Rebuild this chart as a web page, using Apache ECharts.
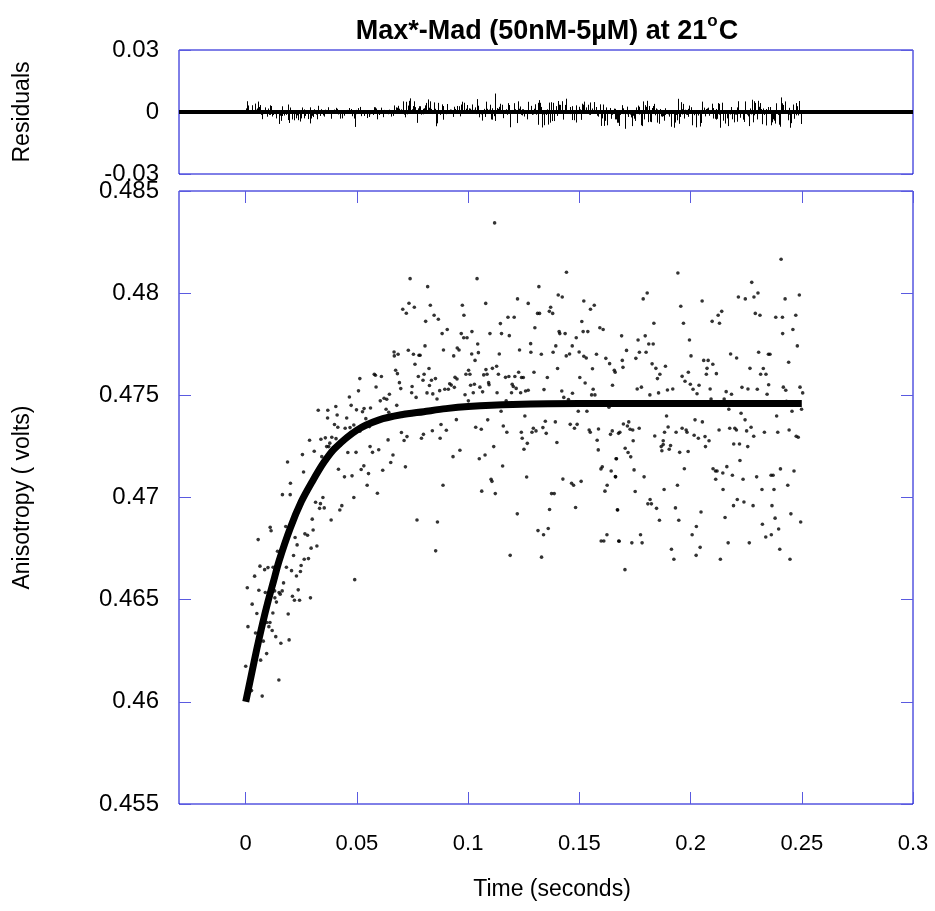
<!DOCTYPE html>
<html>
<head>
<meta charset="utf-8">
<script src="https://cdn.jsdelivr.net/npm/echarts@6/dist/echarts.min.js"></script>
<style>html,body{margin:0;padding:0;background:#fff}#c{width:935px;height:911px}</style>
</head>
<body>
<div id="c"></div>
<script>
// ---- data ----
const xTicks = [0, 0.05, 0.1, 0.15, 0.2, 0.25, 0.3];
const titleMain = 'Max*-Mad (50nM-5µM) at 21';
const titleSup = 'o';
const titleEnd = 'C';

// fitted exponential curve
const fitT = [0, 0.0025, 0.005, 0.0075, 0.01, 0.0125, 0.015, 0.02, 0.025, 0.03, 0.035, 0.04, 0.05, 0.06, 0.07, 0.08, 0.09, 0.1, 0.12, 0.15, 0.2, 0.25];
const fitY = [0.4600, 0.4613, 0.4626, 0.4638, 0.4649, 0.4659, 0.4669, 0.4685, 0.4698, 0.4708, 0.4717, 0.4724, 0.4733, 0.4738, 0.47405, 0.4742, 0.47435, 0.47445, 0.47455, 0.4746, 0.4746, 0.4746];

// observed anisotropy [time (s), anisotropy (volts)]
const obsRise = [
[0.0739,0.48071],[0.0734,0.47951],[0.0758,0.47931],[0.0706,0.47921],[0.0722,0.47902],
[0.0667,0.47712],[0.0685,0.47701],[0.0668,0.47693],[0.0731,0.47721],[0.0754,0.47701],[0.0779,0.47696],[0.0761,0.47652],
[0.0674,0.47623],[0.0682,0.47606],[0.0578,0.47603],[0.0583,0.47598],[0.0610,0.47592],[0.0513,0.47582],[0.0691,0.47562],[0.0586,0.47541],[0.0748,0.47543],[0.0697,0.47533],[0.0776,0.47592],
[0.0507,0.47522],[0.0646,0.47505],[0.0605,0.47473],[0.0622,0.47486],[0.0634,0.47481],[0.0466,0.47492],[0.0746,0.47513],[0.0766,0.4749],
[0.0474,0.47451],[0.0679,0.47451],[0.0631,0.47432],[0.0643,0.47417],[0.0656,0.47403],[0.0326,0.47427],[0.0369,0.47427],[0.0405,0.47445],
[0.0498,0.47429],[0.0532,0.47435],[0.0525,0.4742],[0.0561,0.47438],[0.0368,0.47389],[0.0411,0.47404],[0.0540,0.47386],[0.0454,0.47389],
[0.0399,0.47357],[0.0414,0.47344],[0.0447,0.47339],[0.0469,0.47342],[0.0486,0.47355],[0.0556,0.47347],[0.0513,0.47324],[0.0716,0.47416],
[0.0287,0.4728],[0.0338,0.47285],[0.0358,0.47292],[0.0387,0.47295],[0.0406,0.47288],[0.0378,0.47266],[0.0364,0.47249],[0.0373,0.47249],[0.0394,0.47244],[0.0426,0.47257],
[0.0308,0.47226],[0.0459,0.4722],[0.0496,0.47221],[0.0559,0.47249],[0.0570,0.47221],[0.0598,0.47234],[0.0640,0.47282],[0.0700,0.47318],[0.0725,0.47298],[0.0712,0.47279],
[0.0255,0.4721],[0.0342,0.472],[0.0662,0.47208],[0.0188,0.47174],[0.0260,0.47125],[0.0417,0.47138],[0.0444,0.47101],[0.0478,0.47106],[0.0519,0.47137],[0.0531,0.47155],[0.0552,0.47117],[0.0616,0.47133],[0.0652,0.47171],[0.0718,0.4715],
[0.0201,0.4707],[0.0165,0.47014],[0.0200,0.47014],[0.0347,0.47],[0.0314,0.46977],[0.0336,0.4697],[0.0332,0.46947],[0.0353,0.46949],[0.0486,0.47],[0.0546,0.4706],[0.0592,0.47021],[0.0432,0.4696],[0.0423,0.46939],[0.0384,0.4689],[0.0770,0.4689],[0.0299,0.46894],
[0.0110,0.46854],[0.0114,0.46837],[0.0180,0.46858],[0.0303,0.46841],[0.0266,0.46822],[0.0278,0.46815],[0.0222,0.46804],[0.0056,0.46794],[0.0143,0.46737],[0.0294,0.46752],[0.0320,0.46763],[0.0231,0.46768],[0.0215,0.46716],[0.0263,0.46698],[0.0282,0.46701],
[0.0064,0.46664],[0.0085,0.46647],[0.0100,0.46657],[0.0123,0.46659],[0.0183,0.46659],[0.0206,0.46642],[0.0249,0.46667],[0.0246,0.46638],[0.0228,0.46616],[0.0040,0.46615],[0.0170,0.46582],[0.0007,0.46558],[0.0059,0.46546],[0.0088,0.46535],[0.0130,0.46543],[0.0150,0.46535],[0.0164,0.46543],[0.0155,0.46527],[0.0236,0.46548],[0.0210,0.46517],[0.0219,0.46497],[0.0242,0.46497],[0.0291,0.46509],[0.0131,0.46509],[0.0138,0.46488],[0.0490,0.46598],
[0.0029,0.46478],[0.0050,0.46432],[0.0122,0.46435],[0.0191,0.4643],[0.0095,0.46388],[0.0109,0.46388],[0.0104,0.46368],[0.0010,0.46368],[0.0119,0.46349],[0.0044,0.46337],[0.0135,0.46319],[0.0079,0.46297],[0.0158,0.46287],[0.0195,0.46303],[0.0094,0.46236],[0.0067,0.46204],[0.0000,0.46174],[0.0149,0.46107],[0.0026,0.46055],[0.0074,0.46028]
];
const obsMid = [
[0.1119,0.48344],[0.1442,0.48102],[0.1040,0.48071],[0.0818,0.48032],[0.1318,0.48032],[0.1405,0.47991],[0.1423,0.47981],[0.1222,0.47972],[0.1520,0.47962],
[0.0830,0.47941],[0.0974,0.47941],[0.1079,0.4795],[0.1270,0.4795],[0.1567,0.47941],[0.1550,0.47921],[0.1371,0.47931],[0.1365,0.47911],[0.1380,0.47901],[0.1312,0.47901],[0.1321,0.47901],
[0.0847,0.47892],[0.0981,0.47892],[0.0866,0.47872],[0.0809,0.47862],[0.1179,0.47882],[0.1207,0.47882],[0.1145,0.47851],[0.1511,0.47861],
[0.0906,0.47822],[0.0883,0.47802],[0.1017,0.47812],[0.0969,0.47802],[0.0980,0.47782],[0.0995,0.47782],[0.1098,0.47802],[0.1150,0.47802],[0.1185,0.47792],[0.1300,0.47831],
[0.1409,0.47812],[0.1412,0.47802],[0.1436,0.47802],[0.1517,0.47812],[0.1538,0.47812],[0.1592,0.47831],[0.1607,0.47822],[0.1486,0.47782],[0.1043,0.47751],[0.1281,0.47753],
[0.0806,0.47742],[0.0889,0.47722],[0.0951,0.47732],[0.0959,0.47722],[0.0935,0.47693],[0.1016,0.47702],[0.1046,0.47709],[0.1031,0.47671],[0.1140,0.47702],[0.1231,0.47722],
[0.1282,0.47711],[0.1329,0.47701],[0.1394,0.47742],[0.1382,0.47711],[0.1441,0.47693],[0.1456,0.47702],[0.1468,0.47742],[0.1499,0.47712],[0.1520,0.47691],[0.1531,0.47683],
[0.1577,0.47701],[0.1619,0.47681],[0.1636,0.47655],[0.0784,0.47696],[0.0824,0.47631],[0.0802,0.47603],[0.1002,0.47623],[0.0990,0.47603],[0.1008,0.47603],[0.1080,0.47626],
[0.1109,0.47632],[0.1128,0.47642],[0.1070,0.476],[0.1085,0.47603],[0.1136,0.47603],[0.1227,0.47613],[0.1210,0.47592],[0.1296,0.47613],[0.1356,0.47587],[0.1402,0.47631],
[0.1502,0.47587],[0.1559,0.4763],[0.1657,0.47623],[0.1661,0.47613],[0.0797,0.47574],[0.0835,0.47574],[0.0853,0.47582],[0.0826,0.47548],[0.0917,0.47557],[0.0924,0.4755],
[0.0941,0.47588],[0.0950,0.4758],[0.0938,0.47539],[0.0911,0.4753],[0.0895,0.4753],[0.1011,0.47549],[0.1028,0.47554],[0.1053,0.4754],[0.1092,0.47562],[0.1094,0.47552],
[0.1168,0.47588],[0.1183,0.47592],[0.1198,0.47554],[0.1203,0.47543],[0.1216,0.47534],[0.1240,0.47587],[0.1248,0.47587],[0.1270,0.47525],[0.1258,0.47521],[0.1341,0.47528],
[0.1421,0.47521],[0.1469,0.4751],[0.1430,0.4749],[0.1526,0.4756],[0.1555,0.47502],[0.1570,0.47502],[0.1562,0.4753],[0.1649,0.47549],[0.0815,0.47512],[0.0841,0.47507],
[0.0860,0.47482],[0.0872,0.47523],[0.0986,0.47503],[0.1023,0.47513],[0.1065,0.47517],[0.1001,0.47473],[0.1130,0.47513],[0.1195,0.47513],[0.1236,0.47513],[0.1451,0.47479],[0.1171,0.47473],
[0.1148,0.47422],[0.0947,0.47381],[0.0878,0.47357],[0.0839,0.47327],[0.0902,0.47329],[0.1088,0.4738],[0.1034,0.47344],[0.1059,0.47334],[0.0799,0.47309],[0.0790,0.4729],[0.0874,0.4729],
[0.1158,0.4735],[0.1174,0.47319],[0.1255,0.47399],[0.1239,0.47319],[0.1243,0.4729],[0.1266,0.47265],[0.1251,0.47236],[0.1293,0.47339],[0.1305,0.47326],[0.1287,0.47319],
[0.1347,0.47373],[0.1336,0.47342],[0.1351,0.47314],[0.1392,0.4737],[0.1399,0.47269],[0.1459,0.47358],[0.1490,0.47358],[0.1478,0.47339],[0.1495,0.47422],[0.1534,0.47422],
[0.1544,0.4733],[0.1549,0.47319],[0.1586,0.47335],[0.1580,0.4728],[0.1585,0.47233],[0.1633,0.47442],[0.1648,0.47326],[0.1640,0.47309],[0.1676,0.47314],
[0.0963,0.47231],[0.0932,0.472],[0.1115,0.47249],[0.1076,0.47208],[0.1050,0.4719],[0.1155,0.47154],[0.1665,0.4719],[0.1603,0.4715],[0.1597,0.4714],[0.1643,0.4713],[0.1662,0.47102],
[0.1263,0.471],[0.0887,0.4706],[0.1103,0.47089],[0.1107,0.47079],[0.1426,0.4709],[0.1465,0.4707],[0.1474,0.4706],[0.1508,0.47079],[0.1061,0.47031],[0.1122,0.47019],
[0.1375,0.47019],[0.1387,0.47019],[0.1625,0.4706],[0.1615,0.47031],[0.1221,0.4692],[0.1366,0.46941],[0.1483,0.46951],[0.1671,0.4694],[0.0862,0.4688],
[0.1314,0.46838],[0.1360,0.46848],[0.1339,0.46818],[0.1624,0.46818],[0.1598,0.46787],[0.1610,0.46787],[0.1677,0.46787],[0.0854,0.46739],[0.1189,0.46717],[0.1330,0.46708]
];
const obsLate = [
[0.2407,0.48166],[0.1943,0.48099],[0.2275,0.48053],[0.1805,0.48001],[0.1787,0.47972],[0.2303,0.48001],[0.2285,0.47981],[0.2246,0.47972],[0.2215,0.47981],[0.2425,0.47972],
[0.2489,0.47991],[0.2052,0.47962],[0.1956,0.47936],[0.2291,0.47901],[0.2312,0.47892],[0.2140,0.47911],[0.2124,0.47892],[0.2097,0.47862],[0.2130,0.47853],[0.2383,0.47882],
[0.2413,0.47882],[0.2473,0.47892],[0.1835,0.47853],[0.1968,0.47853],[0.2460,0.47822],[0.2414,0.47802],[0.1690,0.47791],[0.1796,0.47791],[0.1764,0.47771],[0.1812,0.47751],
[0.1832,0.47751],[0.1995,0.47771],[0.2480,0.47742],[0.1712,0.4772],[0.1770,0.47711],[0.1800,0.47711],[0.1754,0.47681],[0.2002,0.47693],[0.2180,0.47702],[0.2207,0.47683],
[0.2306,0.47711],[0.2350,0.47701],[0.2357,0.47701],[0.2441,0.47662],[0.1827,0.47654],[0.1844,0.47632],[0.1887,0.47642],[0.1862,0.47603],[0.1851,0.47582],[0.1693,0.47671],
[0.1696,0.47637],[0.1962,0.47593],[0.1990,0.47613],[0.1975,0.47569],[0.1999,0.47554],[0.2011,0.4753],[0.2038,0.47549],[0.2029,0.47508],[0.2059,0.47671],[0.2079,0.47671],
[0.2074,0.47632],[0.2100,0.47652],[0.2071,0.47603],[0.2116,0.47606],[0.2088,0.47531],[0.2151,0.47482],[0.2160,0.47518],[0.2184,0.47505],[0.2231,0.47539],[0.2258,0.47531],
[0.2267,0.47632],[0.2300,0.4753],[0.2315,0.47603],[0.2327,0.47631],[0.2339,0.47603],[0.2351,0.47552],[0.2344,0.47505],[0.2417,0.4754],[0.2428,0.47525],[0.2492,0.4754],
[0.2504,0.47512],[0.1760,0.47531],[0.1779,0.4754],[0.1817,0.47502],[0.1856,0.47512],[0.1896,0.47526],[0.1920,0.47531],[0.2092,0.47482],[0.2431,0.47471],
[0.2172,0.47432],[0.1892,0.47399],[0.2227,0.47412],[0.2245,0.4738],[0.2387,0.47399],[0.2456,0.47422],[0.2499,0.47432],[0.1698,0.4736],[0.1716,0.4735],[0.1722,0.4737],
[0.1728,0.47334],[0.1740,0.4733],[0.1769,0.47339],[0.1682,0.47319],[0.1742,0.47278],[0.1839,0.47301],[0.1877,0.47278],[0.1877,0.47259],[0.1883,0.47319],[0.1899,0.47345],
[0.1935,0.47319],[0.1962,0.47339],[0.1980,0.4733],[0.1984,0.47319],[0.2016,0.47305],[0.2020,0.4738],[0.2053,0.4737],[0.2035,0.4729],[0.2065,0.47298],[0.2083,0.47278],
[0.2067,0.47249],[0.2128,0.4733],[0.2176,0.47339],[0.2199,0.47339],[0.2206,0.4733],[0.2252,0.47326],[0.2272,0.47344],[0.2284,0.473],[0.2194,0.47262],[0.2220,0.47262],
[0.2257,0.47249],[0.2332,0.47319],[0.2392,0.47319],[0.2443,0.4733],[0.2475,0.473],[0.2484,0.47295],[0.1706,0.47241],[0.1719,0.4722],[0.1731,0.47199],[0.1868,0.47249],
[0.1871,0.47229],[0.1904,0.47236],[0.1910,0.47254],[0.1951,0.47221],[0.1989,0.47225],[0.1667,0.4719],[0.1746,0.47135],[0.1663,0.47101],[0.1791,0.47101],[0.1972,0.47141],
[0.2101,0.47141],[0.2112,0.4713],[0.2119,0.4713],[0.2163,0.47151],[0.2145,0.4712],[0.2222,0.47181],[0.2188,0.47109],[0.2236,0.47089],[0.2297,0.47101],[0.2362,0.47109],
[0.2371,0.47109],[0.2404,0.4714],[0.2465,0.4713],[0.2437,0.4706],[0.2113,0.47089],[0.1751,0.47029],[0.1881,0.47039],[0.1941,0.4706],[0.2146,0.47039],[0.2321,0.47039],
[0.2375,0.47039],[0.1818,0.4699],[0.1808,0.46969],[0.1824,0.46969],[0.1847,0.46947],[0.1672,0.46939],[0.1932,0.46949],[0.2047,0.46929],[0.2210,0.4699],[0.2240,0.46978],
[0.2193,0.4696],[0.2281,0.4696],[0.2366,0.4696],[0.1860,0.46889],[0.1947,0.46889],[0.2155,0.46902],[0.2380,0.46899],[0.2451,0.4692],[0.2495,0.4688],[0.2026,0.46858],
[0.2323,0.46869],[0.2396,0.46846],[0.1775,0.46818],[0.1679,0.46786],[0.1736,0.46778],[0.1782,0.46778],[0.2007,0.46818],[0.2169,0.46778],[0.2264,0.46778],[0.2338,0.46807],
[0.2363,0.46818],[0.1914,0.46747],[0.2043,0.46756],[0.2401,0.46747],[0.1925,0.46698],[0.2025,0.46717],[0.2134,0.46698],[0.2447,0.46698],[0.1705,0.46647]
];

// ---- derived ----
const observed = obsRise.concat(obsMid, obsLate);
const fitLine = fitT.map((t, i) => [t, fitY[i]]);
function fitAt(t) {
  for (let i = 1; i < fitT.length; i++) {
    if (t <= fitT[i]) {
      const f = (t - fitT[i - 1]) / (fitT[i] - fitT[i - 1]);
      return fitY[i - 1] + f * (fitY[i] - fitY[i - 1]);
    }
  }
  return fitY[fitY.length - 1];
}
const residuals = observed.map(p => [p[0], p[1] - fitAt(p[0])]);

const FONT = '"Liberation Sans", Arial, Helvetica, sans-serif';
const BORDER = '#0000d0';
const TICK = '#5a5ae0';

const chart = echarts.init(document.getElementById('c'), null, { renderer: 'canvas' });
const tickStyle = (extra) => Object.assign({ show: true, inside: true, length: 12, lineStyle: { color: TICK, width: 1 } }, extra || {});
const tickOnly = (extra) => Object.assign({
  axisLine: { show: false, onZero: false },
  splitLine: { show: false },
  axisLabel: { show: false },
  axisTick: tickStyle()
}, extra);
const fmt = v => String(+(+v).toFixed(3));

chart.setOption({
  animation: false,
  backgroundColor: '#fff',
  textStyle: { fontFamily: FONT },
  graphic: [{
    type: 'text', x: 547, y: 29,
    style: {
      text: '{a|' + titleMain + '}{s|' + titleSup + '}{a|' + titleEnd + '}',
      align: 'center', verticalAlign: 'middle',
      rich: {
        a: { fontFamily: FONT, fontSize: 27, fontWeight: 'bold', fill: '#000', lineHeight: 32, verticalAlign: 'bottom' },
        s: { fontFamily: FONT, fontSize: 17, fontWeight: 'bold', fill: '#000', lineHeight: 32, verticalAlign: 'top', padding: [0, 1, 0, 0] }
      }
    }
  }],
  grid: [
    { left: 179, right: 22, top: 50, height: 124, show: true, borderColor: BORDER, borderWidth: 1, backgroundColor: 'transparent' },
    { left: 179, right: 22, top: 191, height: 613, show: true, borderColor: BORDER, borderWidth: 1, backgroundColor: 'transparent' }
  ],
  xAxis: [
    { type: 'value', gridIndex: 0, min: -0.03, max: 0.3, axisLine: { show: false, onZero: false }, axisTick: { show: false }, axisLabel: { show: false }, splitLine: { show: false } },
    {
      type: 'value', gridIndex: 1, min: -0.03, max: 0.3, position: 'bottom',
      axisLine: { show: false, onZero: false }, splitLine: { show: false },
      axisTick: tickStyle({ customValues: xTicks }),
      axisLabel: { show: true, customValues: xTicks, margin: 29, fontSize: 22, color: '#000', fontFamily: FONT, formatter: fmt },
      name: 'Time (seconds)', nameLocation: 'middle', nameGap: 74,
      nameTextStyle: { fontSize: 23, color: '#000', fontFamily: FONT, padding: [0, 0, 0, 12] }
    },
    tickOnly({ type: 'value', gridIndex: 1, min: -0.03, max: 0.3, position: 'top', axisTick: tickStyle({ customValues: xTicks }) })
  ],
  yAxis: [
    {
      type: 'value', gridIndex: 0, min: -0.03, max: 0.03, interval: 0.03, position: 'left',
      axisLine: { show: false, onZero: false }, splitLine: { show: false },
      axisTick: tickStyle(),
      axisLabel: { margin: 20, fontSize: 24, color: '#000', fontFamily: FONT, padding: [0, 0, 18, 0], formatter: fmt },
      name: 'Residuals', nameLocation: 'middle', nameGap: 145, nameRotate: 90,
      nameTextStyle: { fontSize: 23, color: '#000', fontFamily: FONT }
    },
    tickOnly({ type: 'value', gridIndex: 0, min: -0.03, max: 0.03, interval: 0.03, position: 'right' }),
    {
      type: 'value', gridIndex: 1, min: 0.455, max: 0.485, interval: 0.005, position: 'left',
      axisLine: { show: false, onZero: false }, splitLine: { show: false },
      axisTick: tickStyle(),
      axisLabel: { margin: 20, fontSize: 24, color: '#000', fontFamily: FONT, formatter: fmt },
      name: 'Anisotropy ( volts)', nameLocation: 'middle', nameGap: 145, nameRotate: 90,
      nameTextStyle: { fontSize: 23, color: '#000', fontFamily: FONT }
    },
    tickOnly({ type: 'value', gridIndex: 1, min: 0.455, max: 0.485, interval: 0.005, position: 'right' })
  ],
  series: [
    {
      type: 'custom', xAxisIndex: 0, yAxisIndex: 0, data: residuals, encode: { x: 0, y: 1 },
      renderItem: (params, api) => {
        const p0 = api.coord([api.value(0), 0]);
        const p1 = api.coord([api.value(0), api.value(1)]);
        const x = Math.round(p0[0]) + 0.5;
        return { type: 'line', shape: { x1: x, y1: p0[1], x2: x, y2: p1[1] }, style: { stroke: '#000', lineWidth: 1 } };
      }
    },
    {
      type: 'line', xAxisIndex: 0, yAxisIndex: 0, data: [[-0.03, 0], [0.3, 0]],
      showSymbol: false, lineStyle: { color: '#000', width: 4 }, clip: false, z: 3
    },
    {
      type: 'scatter', xAxisIndex: 1, yAxisIndex: 2, data: observed,
      symbol: 'circle', symbolSize: 3.6, itemStyle: { color: '#000' }, z: 2
    },
    {
      type: 'line', xAxisIndex: 1, yAxisIndex: 2, data: fitLine,
      showSymbol: false, smooth: 0.3, lineStyle: { color: '#000', width: 7 }, z: 3
    }
  ]
});
</script>
</body>
</html>
